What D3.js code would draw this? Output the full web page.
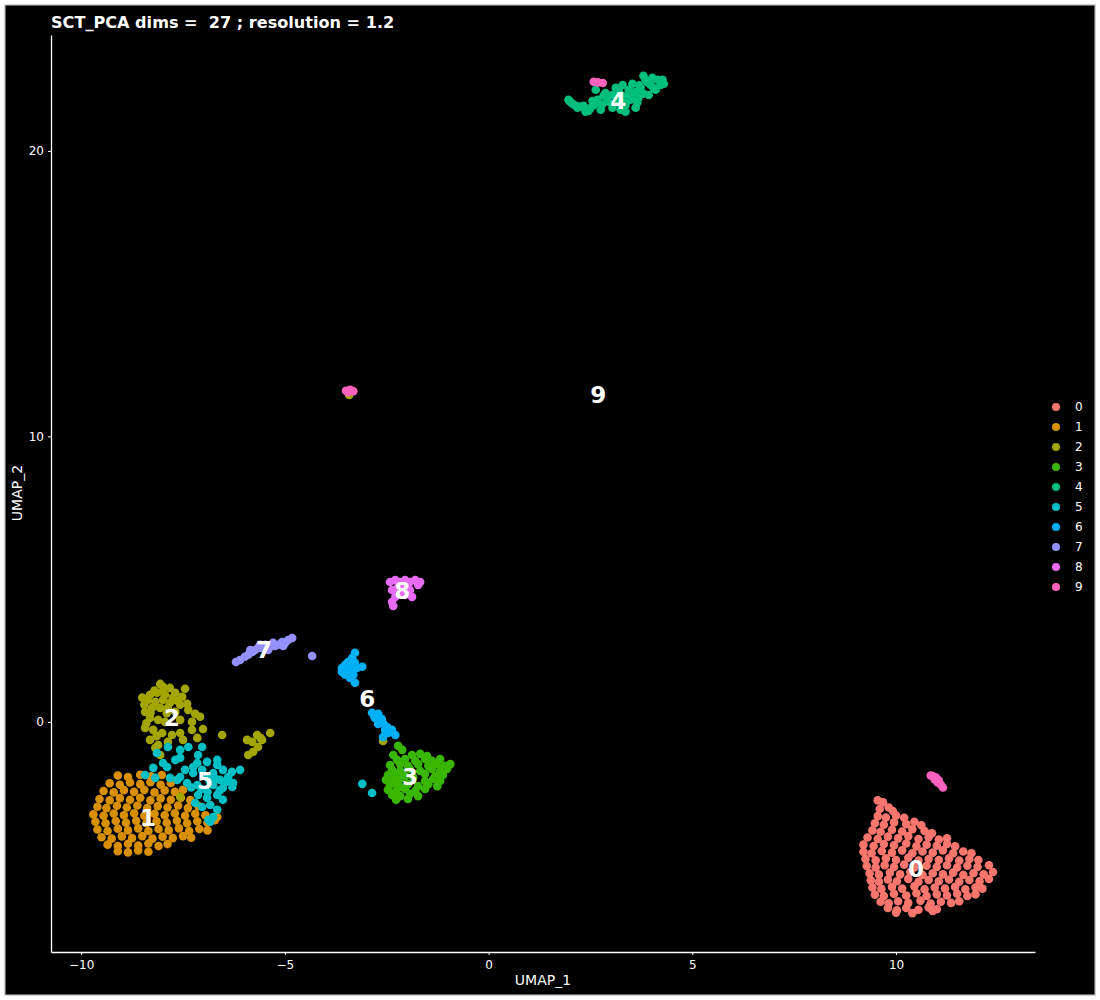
<!DOCTYPE html>
<html>
<head>
<meta charset="utf-8">
<script src="https://cdn.jsdelivr.net/npm/d3@7"></script>
<style>
  html, body { margin: 0; padding: 0; background: #ffffff; }
  svg { display: block; font-family: "DejaVu Sans", sans-serif; }
</style>
</head>
<body>
<svg id="chart" width="1100" height="1000"></svg>
<script>
// ---------------- DATA (UMAP coordinates) ----------------
const title = "SCT_PCA dims =  27 ; resolution = 1.2";
const clusterNames = ["0","1","2","3","4","5","6","7","8","9"];
const clusterColors = ["#F8766D","#D89000","#A3A500","#39B600","#00BF7D","#00BFC4","#00B0F6","#9590FF","#E76BF3","#FF62BC"];
const xTicks = [-10, -5, 0, 5, 10];
const yTicks = [0, 10, 20];
const xDomain = [-10.74, 13.41];
const yDomain = [-8.06, 24.06];

const cluster0 = [
[9.55,-2.75],[9.68,-2.82],
[9.6,-3.05],[9.82,-3.0],[9.92,-3.12],
[9.55,-3.3],[9.75,-3.35],[10.0,-3.28],[10.2,-3.36],
[9.48,-3.55],[9.7,-3.6],[9.95,-3.52],[10.25,-3.58],[10.45,-3.5],[10.62,-3.62],
[9.42,-3.8],[9.62,-3.85],[9.9,-3.78],[10.15,-3.84],[10.4,-3.76],[10.7,-3.82],[10.88,-3.9],
[9.3,-4.05],[9.55,-4.1],[9.8,-4.02],[10.05,-4.08],[10.3,-4.0],[10.55,-4.1],[10.8,-4.04],[11.05,-4.12],[11.25,-4.08],
[9.2,-4.3],[9.45,-4.35],[9.7,-4.28],[9.95,-4.32],[10.25,-4.26],[10.5,-4.36],[10.75,-4.3],[11.0,-4.34],[11.25,-4.28],[11.45,-4.36],
[9.2,-4.55],[9.4,-4.6],[9.65,-4.52],[9.9,-4.58],[10.15,-4.5],[10.4,-4.6],[10.65,-4.54],[10.9,-4.58],[11.15,-4.5],[11.4,-4.6],[11.65,-4.54],[11.85,-4.6],
[9.25,-4.8],[9.5,-4.85],[9.75,-4.78],[10.0,-4.84],[10.3,-4.76],[10.55,-4.86],[10.8,-4.8],[11.05,-4.84],[11.3,-4.78],[11.55,-4.86],[11.8,-4.8],[12.02,-4.84],
[9.28,-5.05],[9.5,-5.1],[9.72,-5.02],[9.95,-5.08],[10.2,-5.0],[10.45,-5.1],[10.75,-5.04],[11.0,-5.08],[11.25,-5.02],[11.5,-5.1],[11.75,-5.04],[12.0,-5.08],[12.28,-5.02],
[9.35,-5.3],[9.58,-5.35],[9.85,-5.28],[10.1,-5.34],[10.35,-5.26],[10.65,-5.36],[10.9,-5.3],[11.15,-5.34],[11.4,-5.28],[11.65,-5.36],[11.9,-5.3],[12.15,-5.34],[12.38,-5.26],
[9.38,-5.55],[9.58,-5.6],[9.8,-5.52],[10.02,-5.58],[10.3,-5.5],[10.55,-5.6],[10.8,-5.54],[11.05,-5.58],[11.3,-5.52],[11.55,-5.6],[11.8,-5.54],[12.05,-5.58],[12.28,-5.5],
[9.42,-5.8],[9.64,-5.85],[9.9,-5.78],[10.15,-5.84],[10.45,-5.76],[10.7,-5.86],[10.95,-5.8],[11.2,-5.84],[11.45,-5.78],[11.7,-5.86],[11.95,-5.8],[12.12,-5.84],
[9.48,-6.05],[9.7,-6.1],[9.95,-6.02],[10.25,-6.08],[10.5,-6.0],[10.75,-6.1],[11.0,-6.04],[11.25,-6.08],[11.5,-6.02],[11.75,-6.1],[11.95,-6.04],
[9.62,-6.3],[9.82,-6.35],[10.05,-6.28],[10.3,-6.34],[10.6,-6.26],[10.85,-6.36],[11.1,-6.3],[11.35,-6.34],[11.55,-6.28],
[9.8,-6.52],[10.02,-6.6],[10.25,-6.52],[10.55,-6.58],[10.8,-6.5],[11.0,-6.56],
[10.0,-6.68],[10.4,-6.7],[10.9,-6.62]
];

const cluster1 = [
[-9.1,-1.88],[-8.85,-1.93],[-8.55,-1.85],[-8.28,-1.91],[-8.02,-1.86],
[-9.3,-2.15],[-9.05,-2.2],[-8.8,-2.12],[-8.55,-2.18],[-8.3,-2.11],[-8.05,-2.2],[-7.8,-2.14],
[-9.45,-2.42],[-9.2,-2.47],[-8.95,-2.39],[-8.7,-2.45],[-8.45,-2.38],[-8.2,-2.47],[-7.95,-2.4],[-7.7,-2.45],[-7.5,-2.38],
[-9.55,-2.7],[-9.3,-2.75],[-9.05,-2.67],[-8.8,-2.73],[-8.55,-2.66],[-8.3,-2.75],[-8.05,-2.68],[-7.8,-2.73],[-7.55,-2.66],[-7.32,-2.74],
[-9.6,-2.97],[-9.38,-3.02],[-9.12,-2.94],[-8.88,-3.0],[-8.62,-2.93],[-8.38,-3.02],[-8.12,-2.95],[-7.88,-3.0],[-7.62,-2.93],[-7.38,-3.02],[-7.12,-2.95],
[-9.7,-3.24],[-9.45,-3.29],[-9.2,-3.21],[-8.95,-3.27],[-8.7,-3.2],[-8.45,-3.29],[-8.2,-3.22],[-7.95,-3.27],[-7.7,-3.2],[-7.45,-3.29],[-7.2,-3.22],[-6.95,-3.27],
[-9.65,-3.5],[-9.4,-3.55],[-9.15,-3.47],[-8.9,-3.53],[-8.65,-3.46],[-8.4,-3.55],[-8.15,-3.48],[-7.9,-3.53],[-7.65,-3.46],[-7.4,-3.55],[-7.15,-3.48],[-6.9,-3.53],[-6.72,-3.44],
[-9.6,-3.77],[-9.35,-3.82],[-9.1,-3.74],[-8.85,-3.8],[-8.6,-3.73],[-8.35,-3.82],[-8.1,-3.75],[-7.85,-3.8],[-7.6,-3.73],[-7.35,-3.82],[-7.1,-3.75],[-6.9,-3.8],
[-9.5,-4.04],[-9.25,-4.09],[-9.0,-4.01],[-8.75,-4.07],[-8.5,-4.0],[-8.25,-4.09],[-8.0,-4.02],[-7.75,-4.07],[-7.5,-4.0],[-7.3,-4.06],
[-9.35,-4.3],[-9.1,-4.35],[-8.85,-4.27],[-8.6,-4.33],[-8.35,-4.26],[-8.1,-4.35],[-7.88,-4.28],
[-9.1,-4.53],[-8.85,-4.57],[-8.6,-4.5],[-8.35,-4.55],
[-6.66,-3.33]
];

const cluster2 = [
[-8.06,1.33],[-7.99,1.23],[-7.82,1.19],[-7.45,1.16],
[-8.31,0.95],[-8.14,1.02],[-7.94,0.95],[-7.69,1.02],[-7.52,0.88],
[-8.36,0.77],[-8.18,0.70],[-7.99,0.77],[-7.82,0.67],[-7.57,0.60],[-7.40,0.63],
[-8.43,0.35],[-8.26,0.49],[-8.06,0.49],[-7.87,0.49],[-7.69,0.35],[-7.37,0.42],[-7.20,0.28],[-7.08,0.18],
[-8.31,0.14],[-8.11,0.07],[-7.94,0.0],[-7.57,0.07],[-7.28,0.0],[-7.01,-0.25],
[-8.43,-0.21],[-8.23,-0.28],[-8.01,-0.39],[-7.77,-0.46],[-7.57,-0.39],[-7.28,-0.28],
[-8.31,-0.63],[-8.11,-0.81],[-7.87,-0.70],[-7.50,-0.63],[-7.15,-0.56],
[-8.18,-0.91],[-8.06,-1.16],[-6.54,-0.46],
[-8.2,1.1],[-8.45,0.6],[-8.5,0.85],[-8.0,1.05],[-7.75,0.85],[-8.3,0.3],[-7.9,0.3],[-7.65,0.75],[-8.15,-0.5],[-8.4,-0.05],
[-5.93,-0.63],[-5.80,-0.70],[-5.68,-0.46],[-5.56,-0.63],[-5.66,-0.88],[-5.78,-1.05],[-5.90,-1.16],[-5.36,-0.39],[-5.60,-0.56],
[-7.57,-2.62],[-2.59,-0.67],[-3.42,11.45]
];

const cluster3 = [
[-2.22,-0.84],[-2.12,-0.98],
[-2.34,-1.16],[-1.88,-1.16],[-1.68,-1.12],[-1.51,-1.2],
[-2.25,-1.33],[-2.05,-1.3],[-1.80,-1.36],[-1.56,-1.3],[-1.39,-1.36],[-1.19,-1.3],
[-2.42,-1.51],[-2.17,-1.48],[-1.98,-1.54],[-1.73,-1.48],[-1.48,-1.54],[-1.26,-1.48],[-1.07,-1.54],[-0.94,-1.48],
[-2.37,-1.68],[-2.17,-1.72],[-1.93,-1.65],[-1.68,-1.72],[-1.39,-1.65],[-1.19,-1.72],[-1.02,-1.65],
[-2.47,-1.86],[-2.29,-1.82],[-2.05,-1.9],[-1.56,-1.82],[-1.31,-1.9],[-1.12,-1.86],
[-2.52,-2.03],[-2.34,-2.07],[-2.17,-2.0],[-1.56,-2.07],[-1.36,-2.0],[-1.19,-2.07],
[-2.42,-2.21],[-2.22,-2.25],[-1.98,-2.18],[-1.73,-2.25],[-1.48,-2.18],[-1.26,-2.25],
[-2.47,-2.38],[-2.27,-2.42],[-2.05,-2.35],[-1.80,-2.42],[-1.56,-2.35],
[-2.37,-2.56],[-2.17,-2.6],[-1.93,-2.52],[-1.73,-2.6],
[-2.27,-2.73],[-1.98,-2.7],
[-1.85,-1.95],[-2.1,-2.3]
];

const cluster4 = [
[1.96,21.79],[2.06,21.65],[2.18,21.51],[2.33,21.58],[2.45,21.40],[2.58,21.61],[2.67,21.79],[2.82,21.93],
[2.94,21.72],[3.04,21.51],[2.87,22.03],[2.63,22.14],[3.24,21.96],[3.36,21.61],[3.48,21.79],[3.61,22.07],
[3.73,22.21],[3.85,22.49],[3.98,22.31],[4.10,22.14],[4.22,22.31],[4.27,22.49],[3.93,21.96],[3.68,21.86],
[3.44,22.14],[3.29,22.31],[3.12,22.21],[3.53,22.35],[3.80,22.63],[4.02,22.56],[4.15,22.49],[3.24,21.44],
[3.61,21.51],[3.36,21.37],[2.75,21.44],[2.38,21.37],[3.04,21.96],
[2.0,21.72],[2.12,21.6],[2.25,21.55],[2.5,21.5],[2.9,21.85],[3.15,21.7],[3.55,21.9],[3.8,22.0],
[4.05,22.2],[3.9,22.4],[3.7,22.3],[3.4,21.95],[3.2,22.1],[2.78,21.62],[2.55,21.75],[3.3,21.8],[4.3,22.35],[3.65,21.7]
];

const cluster5 = [
[-7.87,-0.88],[-7.57,-0.98],[-7.37,-0.88],[-7.03,-0.88],
[-8.14,-1.09],[-7.69,-1.33],[-7.57,-1.26],[-7.13,-1.16],[-6.66,-1.33],[-6.10,-1.68],
[-7.99,-1.44],[-7.89,-1.58],[-7.25,-1.58],[-7.15,-1.44],[-6.91,-1.40],[-6.66,-1.51],[-6.52,-1.68],
[-8.23,-1.61],[-8.43,-1.86],[-7.82,-1.96],[-7.57,-1.93],[-7.45,-1.68],[-7.25,-1.79],[-7.03,-1.68],[-6.76,-1.79],[-6.59,-2.03],[-6.39,-1.93],[-6.27,-2.14],
[-7.64,-2.03],[-7.40,-2.14],[-7.15,-2.21],[-6.76,-2.21],[-6.52,-2.31],[-6.29,-2.28],
[-7.13,-2.56],[-6.91,-2.66],[-6.66,-2.56],[-6.52,-2.73],
[-7.20,-2.84],[-7.03,-2.98],[-6.83,-2.91],[-6.66,-3.08],[-6.76,-3.33],[-6.88,-3.43],
[-8.18,-1.96],[-6.83,-3.50],
[-6.95,-1.9],[-6.85,-2.05],[-7.05,-2.35],[-6.9,-2.45],[-6.7,-2.0],[-6.45,-2.1],[-6.6,-2.4],[-7.3,-2.3],[-6.3,-1.75],
[-3.10,-2.17],[-2.86,-2.49]
];

const cluster6 = [
[-3.28,2.42],[-3.35,2.24],[-3.45,2.10],[-3.52,2.00],[-3.60,1.89],[-3.45,1.82],[-3.35,1.75],[-3.23,1.89],
[-3.10,1.93],[-3.52,1.65],[-3.40,1.54],[-3.28,1.37],[-3.28,2.07],[-3.40,2.0],[-3.6,1.75],[-3.32,1.65],
[-2.86,0.32],[-2.71,0.28],[-2.79,0.14],[-2.66,0.07],[-2.71,-0.07],[-2.59,-0.04],[-2.49,-0.18],[-2.54,-0.28],
[-2.47,-0.39],[-2.37,-0.28],[-2.29,-0.46],[-2.59,-0.53],[-2.8,0.2],[-2.62,0.1]
];

const cluster7 = [
[-6.20,2.10],[-6.10,2.17],[-5.98,2.28],[-5.90,2.35],[-5.80,2.45],[-5.73,2.52],[-5.66,2.59],[-5.56,2.59],
[-5.48,2.70],[-5.36,2.63],[-5.29,2.77],[-5.17,2.70],[-5.07,2.80],[-4.99,2.77],[-4.92,2.87],[-4.82,2.94],
[-5.61,2.70],[-5.41,2.52],[-5.85,2.52],[-5.24,2.66],[-5.04,2.66],[-4.33,2.31]
];

const cluster8 = [
[-2.42,4.90],[-2.29,4.97],[-2.17,4.90],[-2.05,4.97],[-1.93,4.90],[-1.80,4.97],[-1.68,4.90],[-2.22,4.73],
[-1.98,4.76],[-1.73,4.80],[-2.37,4.62],[-2.17,4.52],[-1.93,4.62],[-2.29,4.38],[-2.05,4.45],[-2.37,4.20],
[-2.34,4.06],[-1.88,4.38],[-2.17,4.69]
];

const cluster9 = [
[-3.5,11.6],[-3.4,11.63],[-3.32,11.58],[-3.45,11.55],[-3.36,11.6],
[2.58,22.42],[2.68,22.4],[2.8,22.38],
[10.9,-1.9],[10.98,-1.95],[11.05,-2.05],[10.95,-2.02],[11.1,-2.2],[11.15,-2.3],[11.02,-2.12],[10.85,-1.88]
];

// cluster label positions (cluster medians, as printed on the plot)
const labelX = [10.49, -8.36, -7.77, -1.93, 3.18, -6.96, -2.98, -5.51, -2.12, 2.69];
const labelY = [-5.15, -3.36, 0.14, -1.93, 21.75, -2.07, 0.81, 2.52, 4.59, 11.45];

// ---------------- DRAWING ----------------
const clusters = [cluster0, cluster1, cluster2, cluster3, cluster4, cluster5, cluster6, cluster7, cluster8, cluster9];
const svg = d3.select("#chart");

svg.append("rect").attr("x", 5).attr("y", 5).attr("width", 1090).attr("height", 990)
  .attr("fill", "#000").attr("stroke", "#b0b0b0").attr("stroke-width", 1.2);

const x = d3.scaleLinear().domain(xDomain).range([51, 1035]);
const y = d3.scaleLinear().domain(yDomain).range([952, 35]);
const color = d3.scaleOrdinal().domain(clusterNames).range(clusterColors);

// points
clusters.forEach((pts, i) => {
  svg.append("g").selectAll("circle").data(pts).join("circle")
    .attr("cx", d => x(d[0])).attr("cy", d => y(d[1]))
    .attr("r", 4.3).attr("fill", color(clusterNames[i]));
});

// axes
const xAxis = svg.append("g").attr("transform", "translate(0,952)")
  .call(d3.axisBottom(x).tickValues(xTicks).tickSize(3).tickPadding(5).tickSizeOuter(0));
const yAxis = svg.append("g").attr("transform", "translate(51,0)")
  .call(d3.axisLeft(y).tickValues(yTicks).tickSize(3).tickPadding(4).tickSizeOuter(0));
[xAxis, yAxis].forEach(g => {
  g.select(".domain").attr("stroke", "#ffffff").attr("stroke-width", 1.3);
  g.selectAll(".tick line").attr("stroke", "#ffffff").attr("stroke-width", 1);
  g.selectAll(".tick text").attr("fill", "#ffffff").attr("font-size", 12)
    .attr("font-family", "DejaVu Sans, sans-serif");
});

// axis titles
svg.append("text").attr("x", 543).attr("y", 985).attr("text-anchor", "middle")
  .attr("fill", "#fff").attr("font-size", 14).text("UMAP_1");
svg.append("text").attr("transform", "translate(22,493) rotate(-90)").attr("text-anchor", "middle")
  .attr("fill", "#fff").attr("font-size", 14).text("UMAP_2");

// title
svg.append("text").attr("x", 51).attr("y", 28).attr("fill", "#fff")
  .attr("font-size", 16.1).attr("font-weight", "bold").style("white-space", "pre").text(title);

// cluster labels
svg.append("g").selectAll("text").data(clusterNames).join("text")
  .attr("x", (d, i) => x(labelX[i])).attr("y", (d, i) => y(labelY[i]))
  .attr("text-anchor", "middle").attr("dominant-baseline", "central")
  .attr("fill", "#fff").attr("font-size", 23).attr("font-weight", "bold").text(d => d);

// legend
const lg = svg.append("g").attr("transform", "translate(1056,407)");
const items = lg.selectAll("g").data(clusterNames).join("g")
  .attr("transform", (d, i) => `translate(0,${i * 20})`);
items.append("circle").attr("r", 4).attr("fill", d => color(d));
items.append("text").attr("x", 19).attr("dy", "0.35em").attr("fill", "#fff")
  .attr("font-size", 12).text(d => d);
</script>
</body>
</html>
